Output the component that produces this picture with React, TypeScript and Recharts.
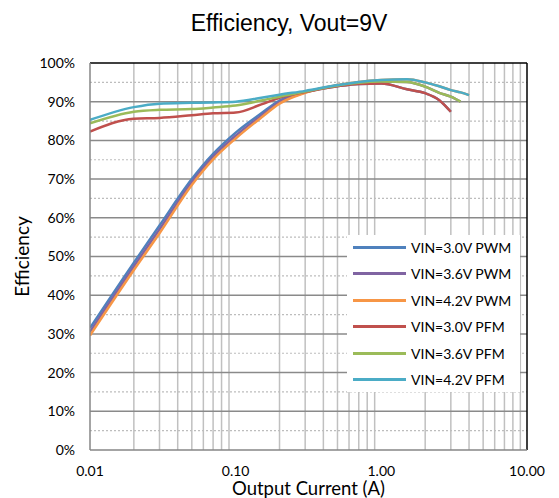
import React from "react";
import {
  LineChart,
  Line,
  XAxis,
  YAxis,
  CartesianGrid,
  Legend,
} from "recharts";

// output current (A), shared by all curves; 3.0V curves stop at 3A, 3.6V at 3.5A
const currents = [0.01, 0.02, 0.03, 0.05, 0.07, 0.1, 0.15, 0.2, 0.3, 0.5, 0.7, 1, 1.5, 2, 2.5, 3, 3.5, 4];

const pwm30 = [31.5, 48.4, 58, 70, 76.5, 82, 87, 90.3, 92.5, 94, 94.6, 94.7, 93.2, 92.2, 90.4, 87.4];
const pwm36 = [30.5, 47.4, 57, 69.2, 75.8, 81.2, 86.4, 89.9, 92.4, 94.2, 94.9, 95.2, 95.1, 93.9, 92.3, 91.3, 90];
const pwm42 = [29.6, 46.5, 56, 68.5, 75.1, 80.5, 85.9, 89.5, 92.3, 94.3, 95.1, 95.6, 95.8, 95.0, 94.0, 93.0, 92.4, 91.7];
const pfm30 = [82.3, 85.6, 85.8, 86.5, 87, 87.2, 89.3, 91, 92.5, 94, 94.6, 94.7, 93.2, 92.2, 90.4, 87.4];
const pfm36 = [84.4, 87.4, 87.9, 88.1, 88.5, 89, 90.3, 91.3, 92.6, 94.2, 94.9, 95.2, 95.1, 93.9, 92.3, 91.3, 90];
const pfm42 = [85.3, 88.6, 89.5, 89.7, 89.8, 90, 91, 91.8, 92.8, 94.3, 95.1, 95.6, 95.8, 95.0, 94.0, 93.0, 92.4, 91.7];

const seriesNames = [
  "VIN=3.0V PWM",
  "VIN=3.6V PWM",
  "VIN=4.2V PWM",
  "VIN=3.0V PFM",
  "VIN=3.6V PFM",
  "VIN=4.2V PFM",
];
const seriesValues = [pwm30, pwm36, pwm42, pfm30, pfm36, pfm42];
const seriesColors = ["#4F81BD", "#8064A2", "#F79646", "#C0504D", "#9BBB59", "#4BACC6"];

const xTicks = [0.01, 0.1, 1, 10];
const xMinorGrid = [
  0.02, 0.03, 0.04, 0.05, 0.06, 0.07, 0.08, 0.09,
  0.2, 0.3, 0.4, 0.5, 0.6, 0.7, 0.8, 0.9,
  2, 3, 4, 5, 6, 7, 8, 9,
];
const yTicks = [0, 10, 20, 30, 40, 50, 60, 70, 80, 90, 100];
const yMajorGrid = [10, 20, 30, 40, 50, 60, 70, 80, 90];
const yMinorGrid = [5, 15, 25, 35, 45, 55, 65, 75, 85, 95];

const series = seriesNames.map((name, i) => ({
  name,
  color: seriesColors[i],
  data: seriesValues[i].map((v, j) => ({ x: currents[j], y: v })),
}));

const FONT = "Lato, 'Noto Sans', sans-serif";

function LegendBox() {
  return (
    <div style={{ background: "#fff", width: 173, height: 157 }}>
      {series.map((s, i) => (
        <div
          key={s.name}
          style={{ position: "absolute", left: 0, top: Math.round(i * 26.4), height: 24, display: "flex", alignItems: "center" }}
        >
          <div style={{ width: 53, height: 3, background: s.color, marginLeft: 6, marginRight: 5 }} />
          <span style={{ fontFamily: FONT, fontSize: 14, color: "#000", whiteSpace: "nowrap" }}>{s.name}</span>
        </div>
      ))}
    </div>
  );
}

export default function App() {
  return (
    <div style={{ position: "absolute", left: 0, top: 0, width: 559, height: 498, background: "#fff" }}>
      <div
        style={{
          position: "absolute",
          left: 139,
          top: 11,
          width: 300,
          textAlign: "center",
          fontFamily: "'Liberation Sans', Arial, sans-serif",
          fontSize: 23,
          lineHeight: "24px",
          color: "#000",
        }}
      >
        Efficiency, Vout=9V
      </div>
      <LineChart width={559} height={498} margin={{ top: 63, right: 32, left: 0, bottom: 0 }}>
        <CartesianGrid horizontal={false} verticalValues={xMinorGrid} stroke="#c0c0c0" strokeWidth={1.5} />
        <CartesianGrid vertical={false} horizontalValues={yMinorGrid} stroke="#bdbdbd" strokeDasharray="2 2" strokeWidth={1.2} />
        <CartesianGrid vertical={false} horizontalValues={yMajorGrid} stroke="#8a8a8a" strokeWidth={1.5} />
        <CartesianGrid horizontalValues={[100]} verticalValues={[10]} stroke="#000" strokeWidth={1.5} />
        <XAxis
          type="number"
          dataKey="x"
          scale="log"
          domain={[0.01, 10]}
          ticks={xTicks}
          interval={0}
          allowDataOverflow
          tickFormatter={(v: number) => v.toFixed(2)}
          tickLine={false}
          tickSize={0}
          tickMargin={16}
          axisLine={{ stroke: "#868686", strokeWidth: 1.5 }}
          tick={{ fill: "#000", fontSize: 14, fontFamily: FONT }}
          height={48}
          label={({ viewBox }: any) => (
            <text
              x={viewBox.x + viewBox.width / 2}
              y={viewBox.y + 40}
              textAnchor="middle"
              dominantBaseline="middle"
              fontFamily={FONT}
              fontSize={18.5}
              fill="#000"
            >
              Output Current (A)
            </text>
          )}
        />
        <YAxis
          type="number"
          dataKey="y"
          domain={[0, 100]}
          ticks={yTicks}
          interval={0}
          tickFormatter={(v: number) => `${v}%`}
          tickLine={false}
          tickSize={0}
          tickMargin={15}
          axisLine={{ stroke: "#868686", strokeWidth: 1.5 }}
          tick={{ fill: "#000", fontSize: 14, fontFamily: FONT }}
          width={90}
          label={({ viewBox }: any) => (
            <text
              x={24}
              y={viewBox.y + viewBox.height / 2}
              textAnchor="middle"
              dominantBaseline="middle"
              transform={`rotate(-90, 24, ${viewBox.y + viewBox.height / 2})`}
              fontFamily={FONT}
              fontSize={19}
              fill="#000"
            >
              Efficiency
            </text>
          )}
        />
        <Legend
          layout="vertical"
          align="center"
          verticalAlign="middle"
          wrapperStyle={{ left: 347, top: 235, width: 173, height: 157 }}
          content={() => <LegendBox />}
        />
        {series.map((s) => (
          <Line
            key={s.name}
            name={s.name}
            data={s.data}
            dataKey="y"
            type="monotone"
            stroke={s.color}
            strokeWidth={2.5}
            dot={false}
            activeDot={false}
            isAnimationActive={false}
          />
        ))}
      </LineChart>
    </div>
  );
}
